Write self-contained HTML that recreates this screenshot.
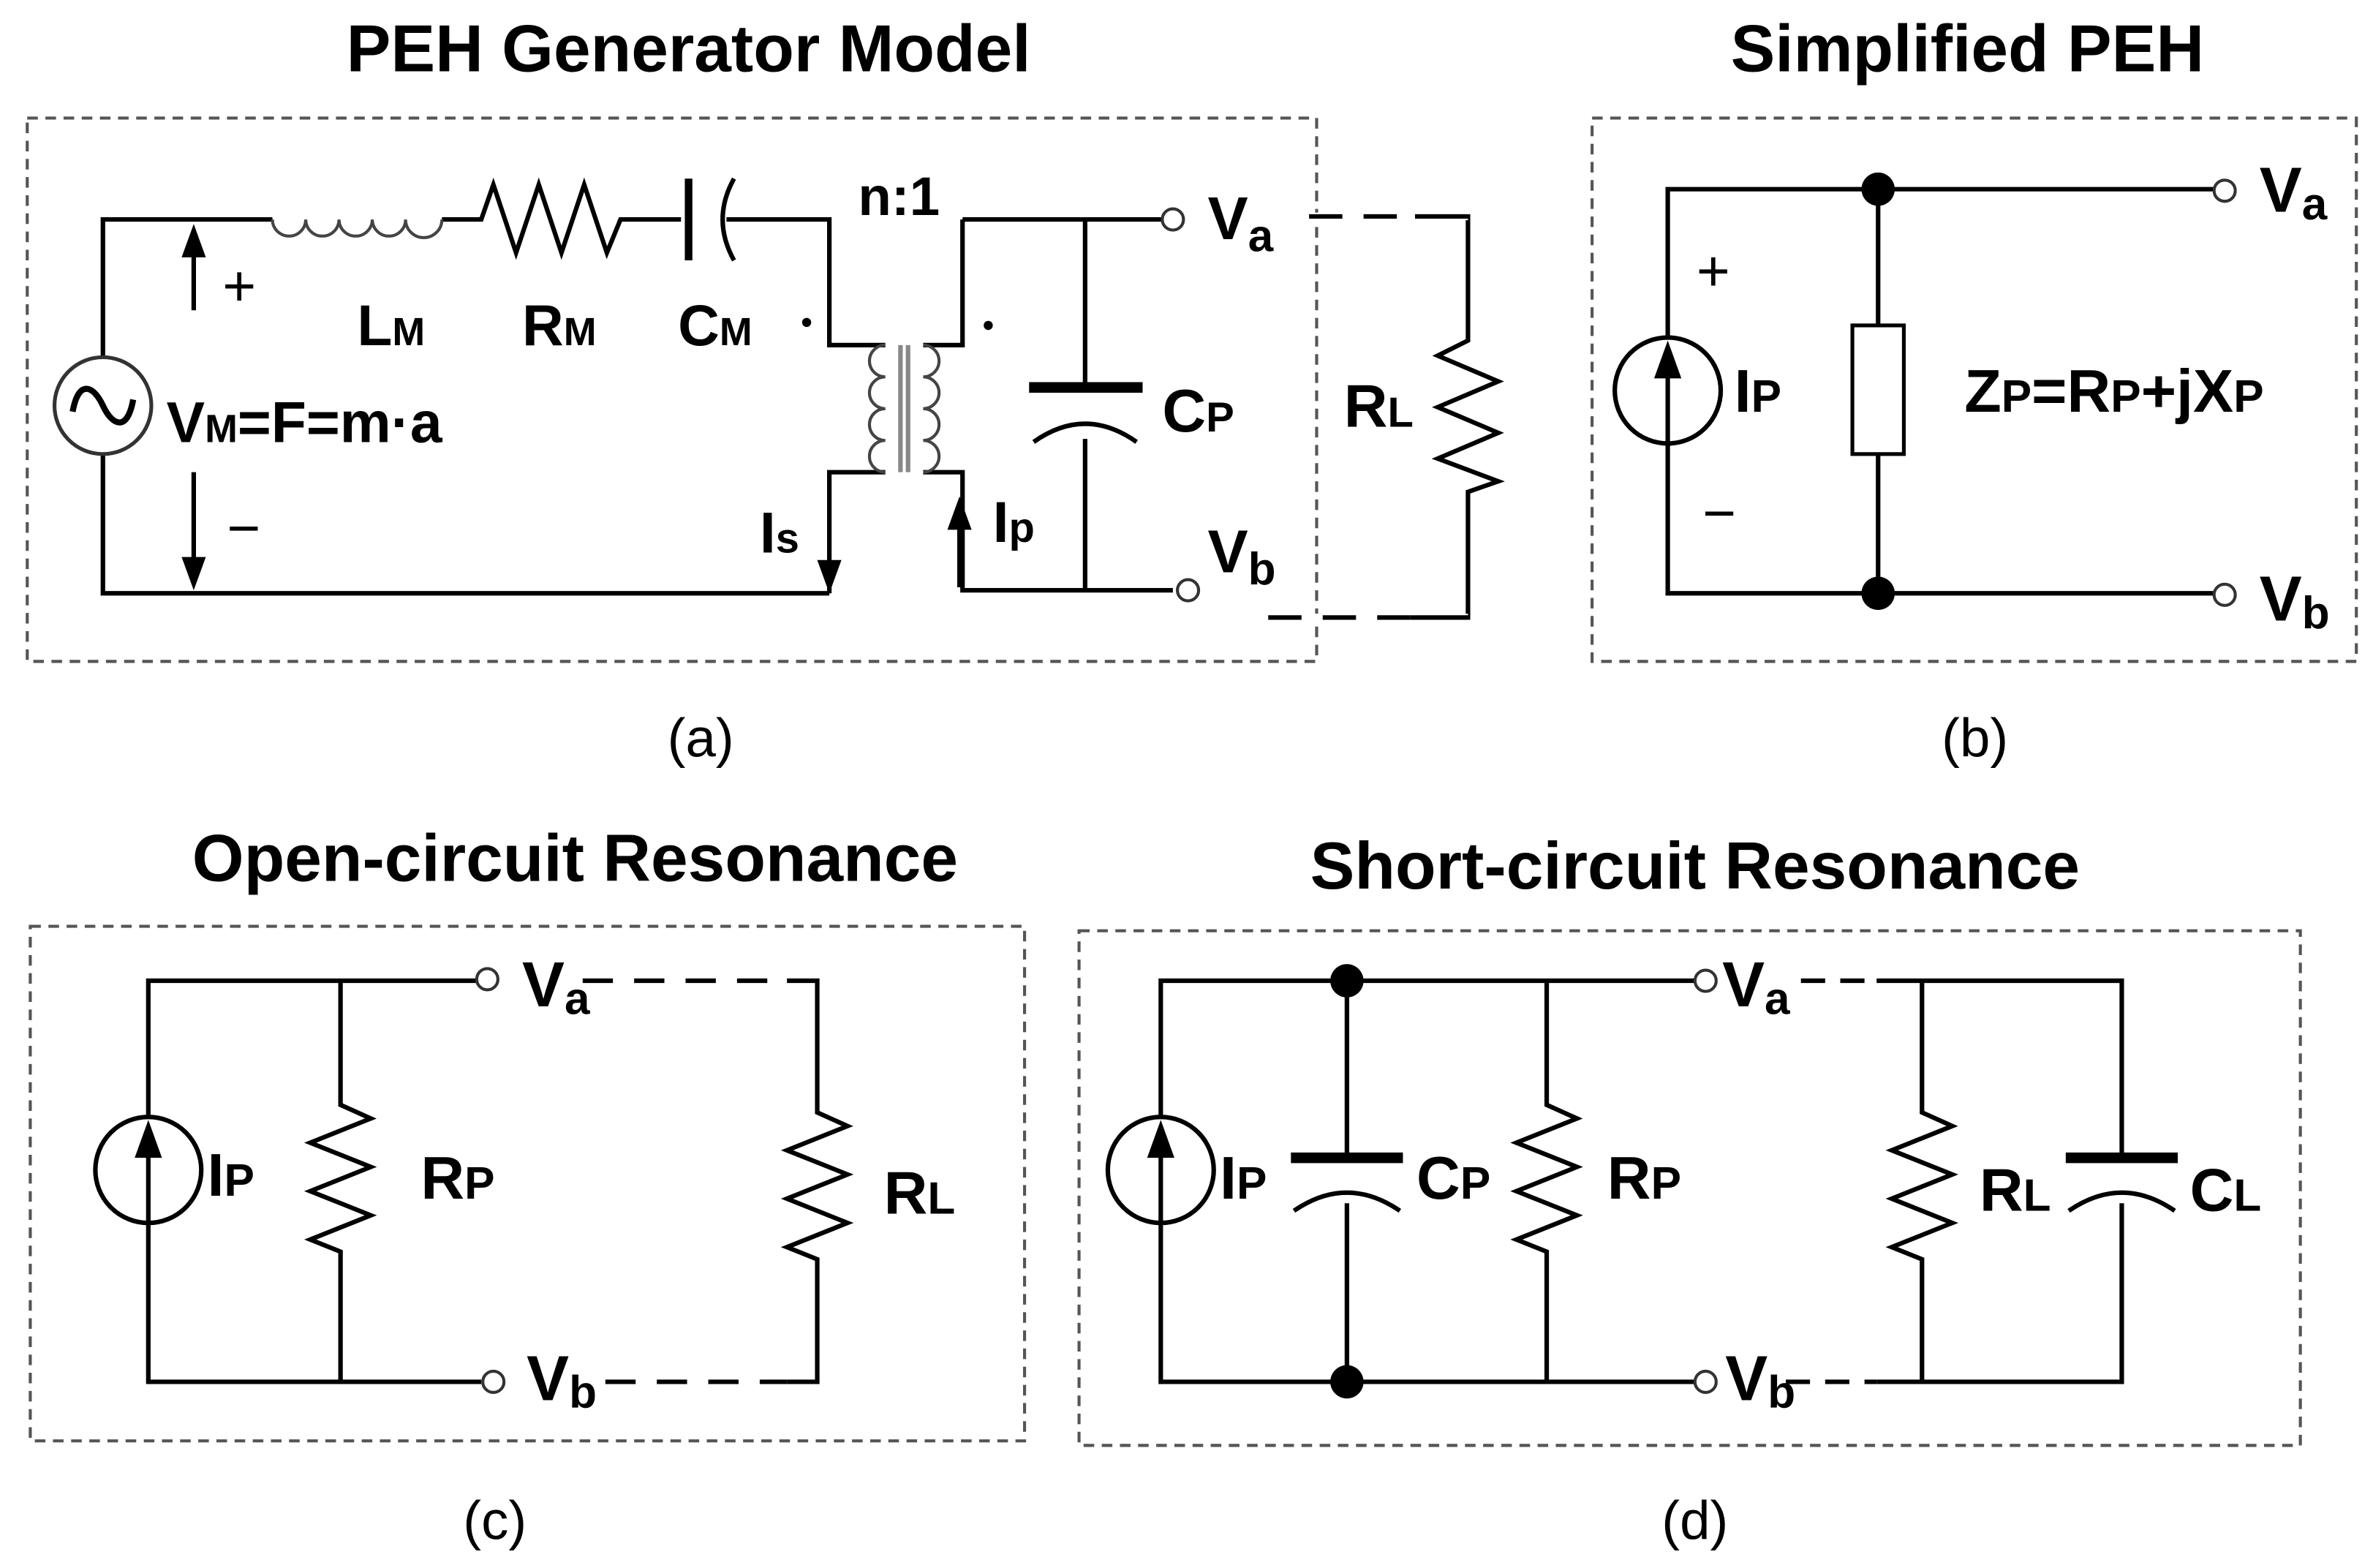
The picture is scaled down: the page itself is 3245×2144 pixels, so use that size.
<!DOCTYPE html>
<html><head><meta charset="utf-8"><style>
html,body{margin:0;padding:0;background:#fff;}
svg{display:block;}
text{font-family:"Liberation Sans Narrow","Liberation Sans",sans-serif;font-weight:bold;fill:#000;}
.n{font-weight:normal;font-family:"Liberation Sans",sans-serif;}
</style></head><body>
<svg width="3245" height="2144" viewBox="0 0 1568 1036" xmlns="http://www.w3.org/2000/svg">
<g fill="none" stroke="#555" stroke-width="2" stroke-dasharray="7,5">
<rect x="18" y="78" width="852" height="359"/>
<rect x="1052" y="78" width="505" height="359"/>
<rect x="20" y="612" width="657" height="340"/>
<rect x="713" y="615" width="807" height="340"/>
</g>
<!-- titles -->
<text x="455" y="47" font-size="44" text-anchor="middle">PEH Generator Model</text>
<text x="1300" y="47" font-size="44" text-anchor="middle">Simplified PEH</text>
<text x="380" y="582" font-size="44" text-anchor="middle">Open-circuit Resonance</text>
<text x="1120" y="587" font-size="44" text-anchor="middle">Short-circuit Resonance</text>
<text class="n" x="463" y="500" font-size="36" text-anchor="middle">(a)</text>
<text class="n" x="1305" y="500" font-size="36" text-anchor="middle">(b)</text>
<text class="n" x="327" y="1017" font-size="36" text-anchor="middle">(c)</text>
<text class="n" x="1120" y="1017" font-size="36" text-anchor="middle">(d)</text>

<g fill="none" stroke="#000" stroke-width="3" stroke-linejoin="miter">
<!-- panel a -->
<path d="M180,145 H68 V236 M68,300 V392 H548"/>
<path d="M292,145 H318 L326,122 L341,167 L356,122 L371,167 L386,122 L401,167 L410,145 H450"/>
<path d="M455,118 V172" stroke-width="5"/>
<path d="M485,118 Q470,145 485,172"/>
<path d="M480,145 H548 V228 H585 M585,312 H548 V392"/>
<path d="M636,145 H775 M636,145 V228 H610 M610,312 H636 V390 H775"/>
<path d="M717,145 V253 M717,290 V390"/>
<path d="M680,256 H755" stroke-width="7"/>
<path d="M683,292 Q717,268 751,292"/>
<path d="M128,205 V160 M128,312 V380"/>
<path d="M868,143 H970 V225 L950,235 L990,252 L950,269 L990,286 L950,303 L990,318 L970,325 V408 H840" />
</g>
<path d="M180,145 a11,11 0 0 0 22,0 a11,11 0 0 0 22,0 a11,11 0 0 0 22,0 a11,11 0 0 0 22,0 a12,12 0 0 0 24,0" fill="none" stroke="#444" stroke-width="2"/>
<path d="M585,228 a10.5,10.5 0 0 0 0,21 a10.5,10.5 0 0 0 0,21 a10.5,10.5 0 0 0 0,21 a10.5,10.5 0 0 0 0,21" fill="none" stroke="#444" stroke-width="2"/>
<path d="M610,228 a10.5,10.5 0 0 1 0,21 a10.5,10.5 0 0 1 0,21 a10.5,10.5 0 0 1 0,21 a10.5,10.5 0 0 1 0,21" fill="none" stroke="#444" stroke-width="2"/>
<path d="M595,228 V312 M600,228 V312" stroke="#888" stroke-width="3"/>
<g fill="none" stroke="#fff" stroke-width="5"><path d="M868,143 H970 M840,408 H970" stroke-dasharray="0" /></g>
<g fill="none" stroke="#000" stroke-width="3">
<path d="M865,143 H935 M838,408 H932" stroke-dasharray="22,14"/>
<path d="M935,143 H970 M932,408 H970"/>
</g>
<circle cx="68" cy="268" r="32" fill="#fff" stroke="#333" stroke-width="2.5"/>
<path d="M48,272 C52,250 62,255 68,268 C74,281 84,286 88,264" fill="none" stroke="#000" stroke-width="4"/>
<polygon points="128,148 120,170 136,170"/>
<polygon points="128,390 120,368 136,368"/>
<polygon points="548,392 540,370 556,370"/>
<path d="M634,388 V340" stroke="#000" stroke-width="3"/>
<polygon points="634,328 626,350 642,350"/>
<circle cx="533" cy="213" r="3"/>
<circle cx="653" cy="215" r="3"/>
<circle cx="775" cy="145" r="7" fill="#fff" stroke="#333" stroke-width="2"/>
<circle cx="785" cy="390" r="7" fill="#fff" stroke="#333" stroke-width="2"/>
<text x="147" y="202" font-size="38" class="n">+</text>
<text x="150" y="362" font-size="38" class="n">−</text>
<text x="236" y="228" font-size="38">L<tspan font-size="26">M</tspan></text>
<text x="345" y="228" font-size="38">R<tspan font-size="26">M</tspan></text>
<text x="448" y="228" font-size="38">C<tspan font-size="26">M</tspan></text>
<text x="567" y="142" font-size="36">n:1</text>
<text x="110" y="292" font-size="38">V<tspan font-size="26">M</tspan>=F=m·a</text>
<text x="768" y="285" font-size="40">C<tspan font-size="28">P</tspan></text>
<text x="502" y="365" font-size="38">I<tspan font-size="28">s</tspan></text>
<text x="656" y="358" font-size="38">I<tspan font-size="28">p</tspan></text>
<text x="798" y="158" font-size="40">V<tspan font-size="30" dy="8">a</tspan></text>
<text x="798" y="378" font-size="40">V<tspan font-size="30" dy="8">b</tspan></text>
<text x="888" y="282" font-size="40">R<tspan font-size="28">L</tspan></text>

<!-- panel b -->
<g fill="none" stroke="#000" stroke-width="3">
<path d="M1463,125 H1102 V223 M1102,293 V392 H1463"/>
<path d="M1241,125 V215 M1241,300 V392"/>
<rect x="1224" y="215" width="34" height="85" stroke-width="2.5"/>
</g>
<circle cx="1102" cy="258" r="35" fill="#fff" stroke="#000" stroke-width="3"/>
<path d="M1102,293 V240" stroke="#000" stroke-width="3"/>
<polygon points="1102,225 1093,250 1111,250"/>
<circle cx="1241" cy="125" r="11"/>
<circle cx="1241" cy="392" r="11"/>
<circle cx="1470" cy="126" r="7" fill="#fff" stroke="#333" stroke-width="2"/>
<circle cx="1470" cy="393" r="7" fill="#fff" stroke="#333" stroke-width="2"/>
<text x="1121" y="192" font-size="38" class="n">+</text>
<text x="1125" y="352" font-size="38" class="n">−</text>
<text x="1146" y="272" font-size="40">I<tspan font-size="30">P</tspan></text>
<text x="1298" y="272" font-size="40">Z<tspan font-size="30">P</tspan>=R<tspan font-size="30">P</tspan>+jX<tspan font-size="30">P</tspan></text>
<text x="1493" y="140" font-size="42">V<tspan font-size="30" dy="5">a</tspan></text>
<text x="1493" y="410" font-size="42">V<tspan font-size="30" dy="5">b</tspan></text>

<!-- panel c -->
<g fill="none" stroke="#000" stroke-width="3">
<path d="M315,648 H98 V738 M98,808 V913 H318"/>
<path d="M225,648 V730 L245,739 L205,755 L245,771 L205,787 L245,803 L205,819 L225,827 V913"/>
<path d="M520,648 H540 V735 L560,744 L520,760 L560,776 L520,792 L560,808 L520,824 L540,832 V913 H520"/>
<path d="M385,648 H520 M400,913 H520" stroke-dasharray="20,14"/>
</g>
<circle cx="98" cy="773" r="35" fill="#fff" stroke="#000" stroke-width="3"/>
<path d="M98,808 V755" stroke="#000" stroke-width="3"/>
<polygon points="98,740 89,765 107,765"/>
<circle cx="322" cy="647" r="7" fill="#fff" stroke="#333" stroke-width="2"/>
<circle cx="326" cy="913" r="7" fill="#fff" stroke="#333" stroke-width="2"/>
<text x="137" y="790" font-size="40">I<tspan font-size="30">P</tspan></text>
<text x="278" y="792" font-size="40">R<tspan font-size="30">P</tspan></text>
<text x="584" y="802" font-size="40">R<tspan font-size="30">L</tspan></text>
<text x="345" y="665" font-size="42">V<tspan font-size="30" dy="5">a</tspan></text>
<text x="348" y="925" font-size="42">V<tspan font-size="30" dy="5">b</tspan></text>

<!-- panel d -->
<g fill="none" stroke="#000" stroke-width="3">
<path d="M1120,648 H767 V738 M767,808 V913 H1120"/>
<path d="M890,648 V762 M890,795 V913"/>
<path d="M1022,648 V730 L1042,739 L1002,755 L1042,771 L1002,787 L1042,803 L1002,819 L1022,827 V913"/>
<path d="M1240,648 H1402 V762 M1402,795 V913 H1240"/>
<path d="M1270,648 V735 L1290,744 L1250,760 L1290,776 L1250,792 L1290,808 L1250,824 L1270,832 V913"/>
<path d="M1190,648 H1240 M1180,913 H1240" stroke-dasharray="16,10"/>
<path d="M855,800 Q890,776 925,800 M1367,800 Q1402,776 1437,800"/>
</g>
<path d="M853,765 H927 M1365,765 H1439" stroke="#000" stroke-width="7"/>
<circle cx="767" cy="773" r="35" fill="#fff" stroke="#000" stroke-width="3"/>
<path d="M767,808 V755" stroke="#000" stroke-width="3"/>
<polygon points="767,740 758,765 776,765"/>
<circle cx="890" cy="648" r="11"/>
<circle cx="890" cy="913" r="11"/>
<circle cx="1127" cy="648" r="7" fill="#fff" stroke="#333" stroke-width="2"/>
<circle cx="1127" cy="913" r="7" fill="#fff" stroke="#333" stroke-width="2"/>
<text x="806" y="792" font-size="40">I<tspan font-size="30">P</tspan></text>
<text x="936" y="792" font-size="40">C<tspan font-size="30">P</tspan></text>
<text x="1062" y="792" font-size="40">R<tspan font-size="30">P</tspan></text>
<text x="1308" y="800" font-size="40">R<tspan font-size="30">L</tspan></text>
<text x="1447" y="800" font-size="40">C<tspan font-size="30">L</tspan></text>
<text x="1138" y="665" font-size="42">V<tspan font-size="30" dy="5">a</tspan></text>
<text x="1140" y="925" font-size="42">V<tspan font-size="30" dy="5">b</tspan></text>
</svg>
</body></html>
